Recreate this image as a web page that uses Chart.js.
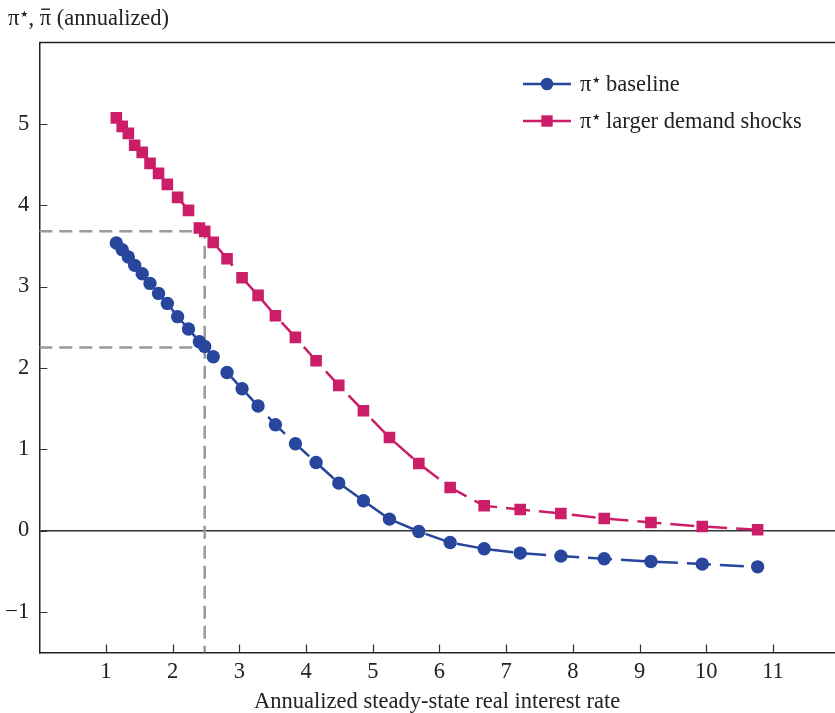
<!DOCTYPE html>
<html>
<head>
<meta charset="utf-8">
<script src="https://cdn.jsdelivr.net/npm/chart.js@4.4.1/dist/chart.umd.min.js"></script>
<style>
html,body{margin:0;padding:0;background:#ffffff;}
#wrap{width:835px;height:713px;position:relative;}
</style>
</head>
<body>
<div id="wrap"><canvas id="c" width="835" height="713"></canvas></div>
<script>
// ---- data ----
const rates = [1.155, 1.243, 1.335, 1.43, 1.543, 1.66, 1.788, 1.92, 2.074, 2.237, 2.40, 2.48, 2.608, 2.815, 3.04, 3.28, 3.54, 3.84, 4.15, 4.49, 4.86, 5.25, 5.69, 6.16, 6.67, 7.21, 7.82, 8.47, 9.17, 9.94, 10.77];
const piBaseline = [3.535, 3.453, 3.363, 3.26, 3.157, 3.038, 2.915, 2.792, 2.629, 2.477, 2.321, 2.263, 2.137, 1.943, 1.743, 1.53, 1.30, 1.066, 0.836, 0.583, 0.365, 0.14, -0.012, -0.148, -0.225, -0.278, -0.315, -0.348, -0.381, -0.413, -0.447];
const piLargerShocks = [5.073, 4.969, 4.883, 4.736, 4.649, 4.514, 4.391, 4.256, 4.096, 3.936, 3.72, 3.678, 3.542, 3.342, 3.108, 2.891, 2.641, 2.374, 2.087, 1.784, 1.472, 1.144, 0.824, 0.529, 0.304, 0.258, 0.209, 0.148, 0.098, 0.049, 0.009];
const xTickValues = [1, 2, 3, 4, 5, 6, 7, 8, 9, 10, 11];
const yTickValues = [-1, 0, 1, 2, 3, 4, 5];
const refRate = 2.48;
const refPiBaseline = 2.25;
const refPiLarger = 3.68;
const seriesLabels = ['baseline', 'larger demand shocks'];
const xTitle = 'Annualized steady-state real interest rate';

const BLUE = '#27469c';
const PINK = '#cc1e68';
const GREY = '#9a9a9a';
const INK = '#222222';
const FONT = '"Liberation Serif", "Times New Roman", serif';
const FS = 22.5;

const pts = (xs, ys) => xs.map((x, i) => ({x: x, y: ys[i]}));

// draws "π" followed by a small raised star; returns the new x
function drawPiStar(ctx, x, y) {
  ctx.font = FS + 'px ' + FONT;
  ctx.fillText('π', x, y);
  x += ctx.measureText('π').width + 1;
  ctx.font = '9px "DejaVu Sans"';
  ctx.fillText('★', x, y - 8);
  x += ctx.measureText('★').width;
  ctx.font = FS + 'px ' + FONT;
  return x;
}

const framePlugin = {
  id: 'frame',
  beforeDatasetsDraw(chart) {
    const {ctx, chartArea: a, scales: {x, y}} = chart;
    ctx.save();
    ctx.strokeStyle = INK;
    ctx.lineWidth = 1.5;
    ctx.beginPath();
    ctx.moveTo(a.left, a.top);
    ctx.lineTo(a.right, a.top);
    ctx.stroke();
    ctx.lineWidth = 1.2;
    ctx.strokeStyle = '#333';
    ctx.beginPath();
    xTickValues.forEach(v => {
      const px = Math.round(x.getPixelForValue(v)) + 0.5;
      ctx.moveTo(px, a.bottom);
      ctx.lineTo(px, a.bottom - 8);
    });
    yTickValues.forEach(v => {
      const py = Math.round(y.getPixelForValue(v)) + 0.5;
      ctx.moveTo(a.left, py);
      ctx.lineTo(a.left + 8, py);
    });
    ctx.stroke();
    ctx.restore();
  },
  afterDraw(chart) {
    const ctx = chart.ctx;
    ctx.save();
    ctx.fillStyle = INK;
    ctx.textBaseline = 'alphabetic';
    ctx.textAlign = 'left';
    // y-axis title: π★, π̄ (annualized)
    let tx = 8, ty = 25;
    tx = drawPiStar(ctx, tx, ty);
    ctx.fillText(', ', tx, ty);
    tx += ctx.measureText(', ').width;
    const wPi = ctx.measureText('π').width;
    ctx.fillText('π', tx, ty);
    ctx.fillRect(tx + 1.5, ty - 16.5, wPi - 2.5, 1.4);
    tx += wPi;
    ctx.fillText(' (annualized)', tx, ty);

    // legend
    const entries = [
      {label: seriesLabels[0], color: BLUE, style: 'circle', y: 84},
      {label: seriesLabels[1], color: PINK, style: 'rect', y: 121}
    ];
    entries.forEach(e => {
      ctx.strokeStyle = e.color;
      ctx.fillStyle = e.color;
      ctx.lineWidth = 2.5;
      ctx.setLineDash([]);
      ctx.beginPath();
      ctx.moveTo(523, e.y);
      ctx.lineTo(571, e.y);
      ctx.stroke();
      if (e.style === 'circle') {
        ctx.beginPath();
        ctx.arc(547, e.y, 6.3, 0, Math.PI * 2);
        ctx.fill();
      } else {
        ctx.fillRect(547 - 5.7, e.y - 5.7, 11.4, 11.4);
      }
      ctx.fillStyle = INK;
      const by = e.y + 7;
      const lx = drawPiStar(ctx, 580, by);
      ctx.fillText(' ' + e.label, lx, by);
    });
    ctx.restore();
  }
};

const chart = new Chart(document.getElementById('c'), {
  type: 'scatter',
  data: {
    datasets: [
      {
        label: 'π★ ' + seriesLabels[0],
        data: pts(rates, piBaseline),
        showLine: true,
        borderColor: BLUE,
        backgroundColor: BLUE,
        borderWidth: 2.5,
        borderDash: [24, 9],
        pointStyle: 'circle',
        pointRadius: 6.7,
        pointHoverRadius: 6.7,
        pointBorderWidth: 0,
        order: 1
      },
      {
        label: 'π★ ' + seriesLabels[1],
        data: pts(rates, piLargerShocks),
        showLine: true,
        borderColor: PINK,
        backgroundColor: PINK,
        borderWidth: 2.5,
        borderDash: [24, 9],
        pointStyle: 'rect',
        pointRadius: 8.2,
        pointHoverRadius: 8.2,
        pointBorderWidth: 0,
        order: 2
      },
      {
        label: 'ref larger',
        data: [{x: 0, y: refPiLarger}, {x: refRate, y: refPiLarger}, {x: refRate, y: -1.5}],
        showLine: true,
        borderColor: GREY,
        borderWidth: 2.5,
        borderDash: [13, 7],
        pointRadius: 0,
        order: 10
      },
      {
        label: 'ref baseline',
        data: [{x: 0, y: refPiBaseline}, {x: refRate, y: refPiBaseline}],
        showLine: true,
        borderColor: GREY,
        borderWidth: 2.5,
        borderDash: [13, 7],
        pointRadius: 0,
        order: 10
      }
    ]
  },
  options: {
    responsive: false,
    animation: false,
    devicePixelRatio: 1,
    layout: {autoPadding: false, padding: {top: 42.5, right: 0, left: 0, bottom: 0}},
    plugins: {legend: {display: false}, tooltip: {enabled: false}, title: {display: false}},
    scales: {
      x: {
        type: 'linear',
        min: 0,
        max: 11.93,
        afterBuildTicks: s => { s.ticks = xTickValues.map(v => ({value: v})); },
        afterFit: s => { s.height = 60.5; s.paddingLeft = 0; s.paddingRight = 0; },
        grid: {display: false, drawTicks: false},
        border: {display: true, color: INK, width: 1.5},
        ticks: {font: {family: FONT, size: FS}, color: INK, padding: 6, maxRotation: 0, autoSkip: false},
        title: {display: true, text: xTitle, font: {family: FONT, size: FS}, color: INK, padding: {top: 0, bottom: -3}}
      },
      y: {
        type: 'linear',
        min: -1.5,
        max: 6,
        afterBuildTicks: s => { s.ticks = yTickValues.map(v => ({value: v})); },
        afterFit: s => { s.width = 39.3; s.paddingTop = 0; s.paddingBottom = 0; },
        grid: {
          display: true,
          drawTicks: false,
          lineWidth: 1.5,
          color: c => (c.tick && c.tick.value === 0) ? '#333333' : 'rgba(0,0,0,0)'
        },
        border: {display: true, color: INK, width: 1.5},
        ticks: {
          font: {family: FONT, size: FS},
          color: INK,
          padding: 10,
          callback: v => String(v).replace('-', '\u2212')
        }
      }
    }
  },
  plugins: [framePlugin]
});
</script>
</body>
</html>
